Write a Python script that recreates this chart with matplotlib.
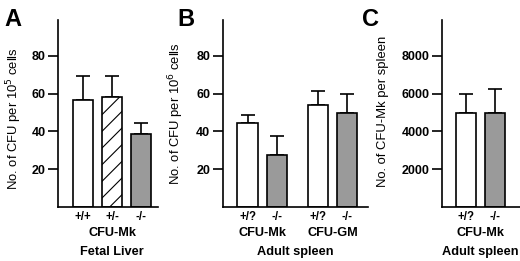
import matplotlib
matplotlib.use("Agg")
import matplotlib.pyplot as plt
from matplotlib.transforms import blended_transform_factory

plt.rcParams['font.family'] = ['Liberation Sans', 'DejaVu Sans']
plt.rcParams['hatch.linewidth'] = 0.8

# Panel A: fetal liver CFU-Mk
a_labels = ["+/+", "+/-", "-/-"]
a_means = [56.6, 58.2, 38.6]
a_upper = [69.6, 69.6, 44.4]

# Panel B: adult spleen CFU-Mk and CFU-GM
b_labels = ["+/?", "-/-", "+/?", "-/-"]
b_means = [44.7, 27.5, 53.8, 50.0]
b_upper = [48.7, 37.4, 61.6, 60.0]

# Panel C: adult spleen CFU-Mk per spleen
c_labels = ["+/?", "-/-"]
c_means = [5000, 5000]
c_upper = [6000, 6250]

GRAY = "#9a9a9a"
W, H = 520, 261
fig = plt.figure(figsize=(W / 100, H / 100), dpi=100)

FS_T = 9.2   # bold text
FS_L = 9.4   # y labels


def mkax(l, r, top=20, bot=207):
    return fig.add_axes([l / W, 1 - bot / H, (r - l) / W, (bot - top) / H])


def style(ax, ticks, ymax):
    for s in ("top", "right"):
        ax.spines[s].set_visible(False)
    for s in ("left", "bottom"):
        ax.spines[s].set_linewidth(1.2)
    ax.set_ylim(0, ymax)
    ax.set_yticks(ticks)
    ax.set_yticklabels([str(t) for t in ticks], fontweight="bold", fontsize=9)
    ax.tick_params(axis="y", length=7, width=1.2, pad=2)
    ax.tick_params(axis="x", length=0, pad=3, labelsize=8.3)
    for t in ax.get_xticklabels():
        t.set_fontweight("bold")


def bars(ax, xs, means, upper, colors, hatches):
    errs = [u - m for u, m in zip(upper, means)]
    ax.bar(xs, means, width=0.68, color=colors, edgecolor="black",
           linewidth=1.2, hatch=hatches, zorder=2)
    ax.errorbar(xs, means, yerr=[[0] * len(xs), errs], fmt="none",
                ecolor="black", elinewidth=1.2, capsize=5, capthick=1.2, zorder=1)


def sub(ax, x, ypix, s):
    tr = blended_transform_factory(ax.transData, fig.transFigure)
    ax.text(x, 1 - ypix / H, s, transform=tr, ha="center", va="center",
            fontweight="bold", fontsize=FS_T)


# ---- Panel A ----
axA = mkax(58, 158)
xa = [1, 2, 3]
bars(axA, xa, a_means, a_upper, ["white", "white", GRAY], [None, "//", None])
axA.set_xlim(0.14, 3.58)
axA.set_xticks(xa)
axA.set_xticklabels(a_labels)
style(axA, [20, 40, 60, 80], 99)
sub(axA, 2, 233, "CFU-Mk")
sub(axA, 2, 252, "Fetal Liver")

# ---- Panel B ----
axB = mkax(222.7, 368)
xb = [0, 1, 2.38, 3.38]
bars(axB, xb, b_means, b_upper, ["white", GRAY, "white", GRAY], None)
axB.set_xlim(-0.84, 4.08)
axB.set_xticks(xb)
axB.set_xticklabels(b_labels)
style(axB, [20, 40, 60, 80], 99)
sub(axB, 0.5, 233, "CFU-Mk")
sub(axB, 2.88, 233, "CFU-GM")
sub(axB, 1.6, 252, "Adult spleen")

# ---- Panel C ----
axC = mkax(442, 520)
xc = [0, 1]
bars(axC, xc, c_means, c_upper, ["white", GRAY], None)
axC.set_xlim(-0.82, 1.85)
axC.set_xticks(xc)
axC.set_xticklabels(c_labels)
style(axC, [2000, 4000, 6000, 8000], 9900)
sub(axC, 0.5, 233, "CFU-Mk")
sub(axC, 0.5, 252, "Adult spleen")

# y labels
fig.text(14 / W, 1 - 119 / H, "No. of CFU per 10$^{5}$ cells", rotation=90,
         ha="center", va="center", fontsize=FS_L)
fig.text(176 / W, 1 - 114 / H, "No. of CFU per 10$^{6}$ cells", rotation=90,
         ha="center", va="center", fontsize=FS_L)
fig.text(383 / W, 1 - 111 / H, "No. of CFU-Mk per spleen", rotation=90,
         ha="center", va="center", fontsize=FS_L)

# panel letters
for x, s in [(4, "A"), (177, "B"), (362, "C")]:
    fig.text(x / W, 1 - 19 / H, s, ha="left", va="center", fontweight="bold",
             fontsize=17)

fig.savefig("out.png", dpi=100)
